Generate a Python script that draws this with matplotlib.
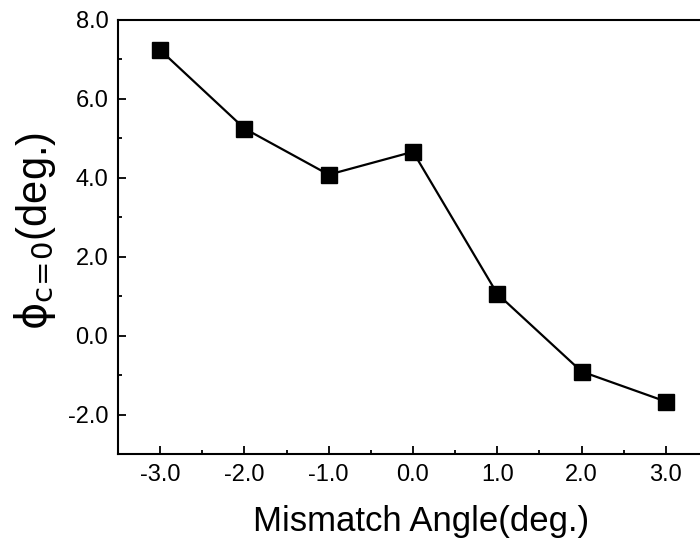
import matplotlib
matplotlib.use('Agg')
import matplotlib.pyplot as plt
from matplotlib.ticker import MultipleLocator, FormatStrFormatter

plt.rcParams['font.family'] = ['Liberation Sans', 'DejaVu Sans']
plt.rcParams['mathtext.fontset'] = 'dejavusans'

# data
mismatch_angle = [-3.0, -2.0, -1.0, 0.0, 1.0, 2.0, 3.0]
phi_c0 = [7.24, 5.25, 4.08, 4.66, 1.06, -0.91, -1.67]

fig = plt.figure(figsize=(7.0, 5.46), dpi=100)
# right edge of the axes runs past the figure, as in the cropped original
ax = fig.add_axes([118 / 700, 1 - 454 / 546, 590 / 700, 434 / 546])

ax.plot(mismatch_angle, phi_c0, color='black', lw=1.6, marker='s',
        markersize=11.5, markerfacecolor='black', markeredgecolor='black')

ax.set_xlim(-3.5, 3.5)
ax.set_ylim(-3.0, 8.0)
ax.xaxis.set_minor_locator(MultipleLocator(0.5))
ax.yaxis.set_minor_locator(MultipleLocator(1.0))
ax.set_xticks([-3, -2, -1, 0, 1, 2, 3])
ax.set_yticks([-2, 0, 2, 4, 6, 8])
ax.xaxis.set_major_formatter(FormatStrFormatter('%.1f'))
ax.yaxis.set_major_formatter(FormatStrFormatter('%.1f'))

ax.tick_params(which='both', direction='in', width=1.3, labelsize=17)
ax.tick_params(which='major', length=6, pad=7)
ax.tick_params(which='minor', length=3)
for s in ax.spines.values():
    s.set_linewidth(1.5)

ax.set_xlabel('Mismatch Angle(deg.)', fontsize=25)
ax.xaxis.set_label_coords(0.514, -0.118)
ax.set_ylabel(r'$\mathrm{\phi}_{\mathrm{c}\!=\!\mathrm{0}}$(deg.)', fontsize=30)
ax.yaxis.set_label_coords(-0.101, 0.514)

fig.savefig('out.png', dpi=100)
